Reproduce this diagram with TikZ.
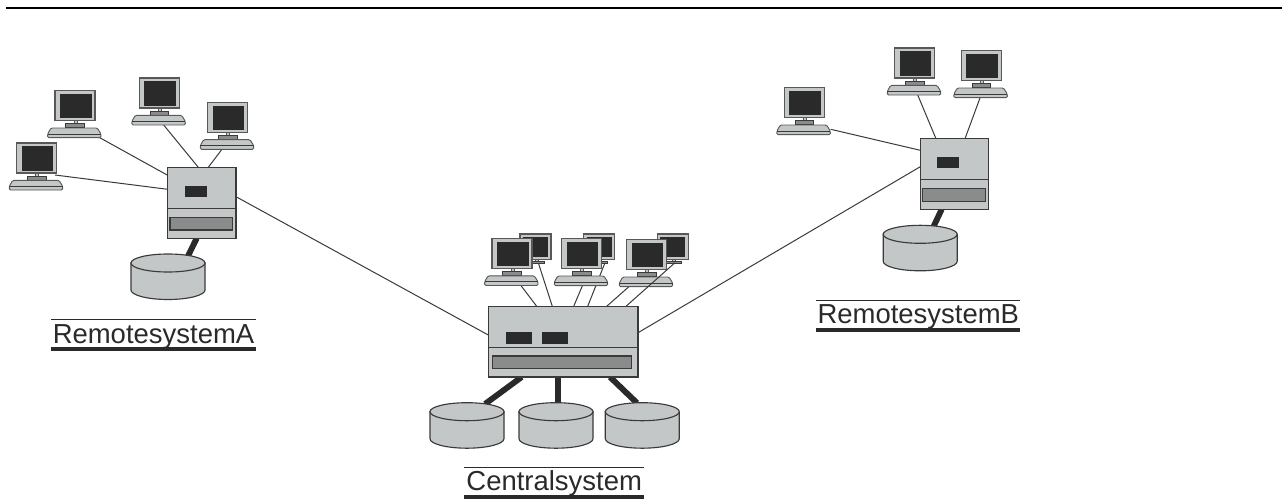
\documentclass[tikz,border=0pt]{standalone}
\usepackage{fontspec}
\setmainfont{Liberation Sans}
\definecolor{bodygray}{HTML}{C4C7C7}
\definecolor{darkscr}{HTML}{2B2A2B}
\definecolor{slotgray}{HTML}{8A8C8C}
\definecolor{edgegray}{HTML}{3A3A3A}
\tikzset{
  x=0.75pt,y=-0.75pt,
  link/.style={draw=edgegray,line width=0.75pt},
  thicklink/.style={draw=darkscr,line width=4.4pt},
  boxface/.style={draw=edgegray,fill=bodygray,line width=0.85pt},
  pcface/.style={draw=edgegray!85!white,fill=bodygray,line width=0.9pt},
  kbface/.style={draw=edgegray!85!white,fill=bodygray,line width=0.7pt},
  scr/.style={fill=darkscr,draw=none},
  slotface/.style={draw=edgegray,fill=slotgray,line width=0.85pt},
  lbl/.style={inner sep=0pt,anchor=base,font=\fontsize{20.6pt}{24pt}\selectfont,text=darkscr},
  rulethin/.style={draw=darkscr,line width=1.2pt},
  rulethick/.style={draw=darkscr,line width=3pt},
  pics/computer/.style={code={
    \path[pcface] (0,0) rectangle (40,30);
    \path[scr] (5,3.3) rectangle (36.5,27.7);
    \path[kbface] (19,30) rectangle (22,33);
    \path[draw=edgegray,fill=slotgray,line width=0.7pt] (10.7,33) rectangle (29.3,37);
    \path[kbface,rounded corners=1pt] (-4,37.3) -- (42.3,37.3) -- (46,43.3) -- (46,47) -- (-7.4,47) -- (-7.4,43.3) -- cycle;
    \path[draw=edgegray,line width=0.7pt] (-7.4,43.3) -- (46,43.3);
  }},
  pics/backmonitor/.style={code={
    \path[pcface] (0,0) rectangle (31,25.3);
    \path[scr] (3,2.5) rectangle (28,22.7);
    \path[kbface] (15,25.3) rectangle (18,27.5);
    \path[draw=edgegray,fill=slotgray,line width=0.7pt] (8,27.5) rectangle (24,29.5);
  }},
  pics/disk/.style={code={
    \path[boxface] (-37,0) -- (-37,27) arc[start angle=180,end angle=0,x radius=37,y radius=9.5] -- (37,0) -- cycle;
    \path[boxface] (0,0) ellipse[x radius=37,y radius=9];
  }}
}
\begin{document}
\begin{tikzpicture}
\useasboundingbox (0,0) rectangle (1282,500);
\coordinate (ruleL) at (6,8); \coordinate (ruleR) at (1282,8);
\draw[draw=black,line width=1.2pt] (ruleL) -- (ruleR);

% connector end points
\coordinate (a1) at (55,175);      \coordinate (sa1) at (167.7,189.3);
\coordinate (a2) at (96.7,136);    \coordinate (sa2) at (167.7,175.3);
\coordinate (a3) at (162.3,123.3); \coordinate (sa3) at (198.3,167.3);
\coordinate (a4) at (222.7,148.3); \coordinate (sa4) at (208.3,167.3);
\coordinate (sa5) at (236,196.7);  \coordinate (sc1) at (488.3,335);
\coordinate (c1) at (520,284.3);   \coordinate (sc2) at (536.7,306.3);
\coordinate (c2) at (538.3,262.7); \coordinate (sc3) at (552.3,306.3);
\coordinate (c3) at (582.7,285);   \coordinate (sc4) at (573.7,306.3);
\coordinate (c4) at (605,262.7);   \coordinate (sc5) at (587.7,306.3);
\coordinate (c5) at (630,285.7);   \coordinate (sc6) at (606.7,306.3);
\coordinate (c6) at (675,262.7);   \coordinate (sc7) at (626,306.3);
\coordinate (sc8) at (638,332.7);  \coordinate (sb1) at (920.3,166.7);
\coordinate (b1) at (830.7,129.3); \coordinate (sb2) at (920.3,150.3);
\coordinate (b2) at (917,93.3);    \coordinate (sb3) at (936,138.7);
\coordinate (b3) at (980.7,96);    \coordinate (sb4) at (965,138.7);

\draw[link] (a1)--(sa1) (a2)--(sa2) (a3)--(sa3) (a4)--(sa4) (sa5)--(sc1);
\draw[link] (c1)--(sc2) (c2)--(sc3) (c3)--(sc4) (c4)--(sc5) (c5)--(sc6);
\draw[link] (sc8)--(sb1) (b1)--(sb2) (b2)--(sb3) (b3)--(sb4);

% thick disk links
\coordinate (ta1) at (196.7,238.3); \coordinate (ta2) at (188,256);
\coordinate (tc1) at (521.7,377);   \coordinate (tc2) at (485,404);
\coordinate (tc3) at (558,377);     \coordinate (tc4) at (558,403);
\coordinate (tc5) at (610,377);     \coordinate (tc6) at (637,403);
\coordinate (tb1) at (941.7,209.3); \coordinate (tb2) at (933.3,227);
\draw[thicklink] (ta1)--(ta2) (tc1)--(tc2) (tc3)--(tc4) (tc5)--(tc6) (tb1)--(tb2);

% remote A
\pic at (16.7,143) {computer};
\pic at (55,90.7) {computer};
\pic at (139.3,78) {computer};
\pic at (207.7,102.3) {computer};
\path[boxface] (167.7,167.3) rectangle (236,238.3);
\draw[link] (167.7,208.3) -- (236,208.3);
\path[scr] (185,186) rectangle (206.7,196.7);
\path[slotface] (170,217.3) rectangle (232.7,230);
\pic at (168,263) {disk};

% central
\pic at (520,234) {backmonitor};
\pic at (583.7,234) {backmonitor};
\pic at (657.3,234) {backmonitor};
\pic at (492,238.5) {computer};
\pic at (561.7,238.7) {computer};
\pic at (626.7,239.7) {computer};
\draw[link] (c6)--(sc7);
\path[boxface] (488.3,306.3) rectangle (638,377);
\draw[link] (488.3,347.3) -- (638,347.3);
\path[scr] (506.3,332.3) rectangle (532.3,343.7);
\path[scr] (542.3,332.3) rectangle (568.3,343.7);
\path[slotface] (492.3,356) rectangle (631.3,368.7);
\pic at (467,411.7) {disk};
\pic at (556,411.7) {disk};
\pic at (642.3,411.7) {disk};

% remote B
\pic at (784.3,87.7) {computer};
\pic at (894.7,48) {computer};
\pic at (961.3,50.7) {computer};
\path[boxface] (920.3,138.7) rectangle (988.7,209.3);
\draw[link] (920.3,179.3) -- (988.7,179.3);
\path[scr] (937,157) rectangle (959.3,168);
\path[slotface] (922.3,188.7) rectangle (985.7,201.3);
\pic at (920.2,234.3) {disk};

% labels
\node[lbl] (la) at (153.5,343.3) {RemotesystemA};
\node[lbl] (lc) at (554.2,490) {Centralsystem};
\node[lbl] (lb) at (918.3,323.3) {RemotesystemB};
\draw[rulethin] (51.3,319.3) -- (256,319.3);
\draw[rulethick] (51.3,348.7) -- (256,348.7);
\draw[rulethin] (464.3,467.3) -- (644.3,467.3);
\draw[rulethick] (464.3,497) -- (644.3,497);
\draw[rulethin] (816,300.3) -- (1020,300.3);
\draw[rulethick] (816,329.7) -- (1020,329.7);
\end{tikzpicture}
\end{document}
